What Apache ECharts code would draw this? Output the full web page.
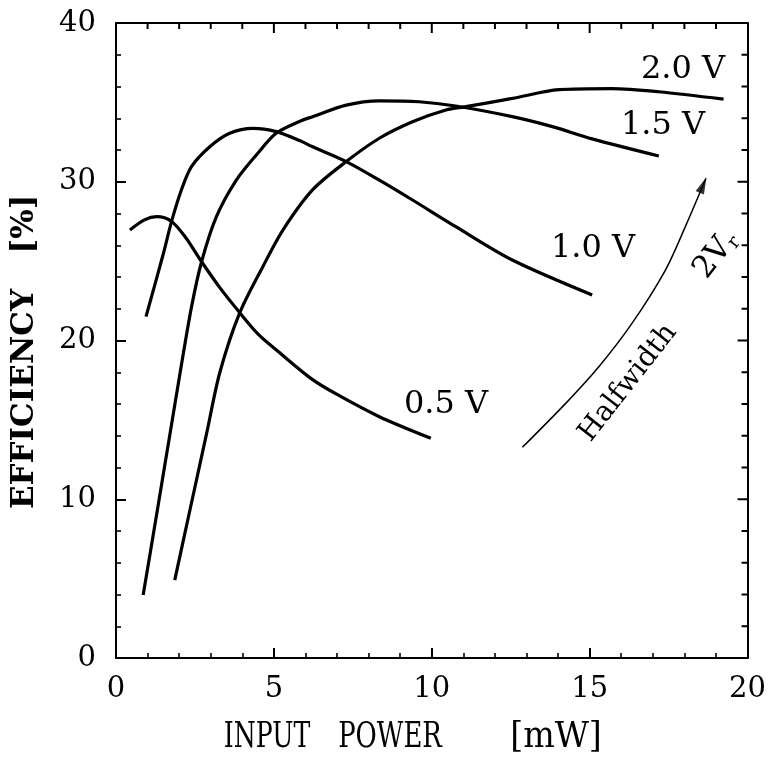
<!DOCTYPE html>
<html>
<head>
<meta charset="utf-8">
<script src="https://cdn.jsdelivr.net/npm/echarts@6/dist/echarts.min.js"></script>
<style>
html,body{margin:0;padding:0;background:#fff;}
#c{width:769px;height:761px;}
</style>
</head>
<body>
<div id="c"></div>
<script>
// ---- data ----
var x05 = [0.44, 0.9, 1.29, 1.76, 2.2, 2.71, 3.3, 3.92, 4.5, 5.08, 6.18, 7.0, 8.34, 9.97];
var y05 = [26.96, 27.6, 27.8, 27.5, 26.5, 24.96, 23.3, 21.75, 20.4, 19.4, 17.6, 16.6, 15.2, 13.84];

var x10 = [0.95, 1.49, 1.76, 2.07, 2.39, 2.97, 3.6, 4.34, 5.07, 5.81, 6.23, 7.29, 8.34, 9.39, 10.76, 12.55, 15.08];
var y10 = [21.5, 25.4, 27.5, 29.48, 30.95, 32.2, 33.05, 33.36, 33.16, 32.6, 32.2, 31.27, 30.1, 28.85, 27.17, 25.07, 22.87];

var x15 = [0.86, 1.3, 1.7, 2.05, 2.39, 2.71, 3.18, 3.81, 4.45, 5.07, 5.81, 6.23, 7.29, 8.34, 9.6, 10.76, 12.55, 13.82, 15.08, 17.19];
var y15 = [3.97, 9.2, 14.0, 18.2, 22.1, 24.96, 27.8, 30.1, 31.7, 33.05, 33.8, 34.1, 34.83, 35.1, 35.04, 34.77, 34.1, 33.47, 32.7, 31.62];

var x20 = [1.86, 2.35, 2.87, 3.29, 3.92, 4.65, 5.3, 6.23, 7.29, 8.34, 9.39, 10.45, 11.08, 12.55, 14.03, 15.71, 17.19, 19.24];
var y20 = [4.9, 9.4, 14.15, 18.0, 21.75, 24.65, 27.0, 29.5, 31.27, 32.74, 33.78, 34.52, 34.73, 35.25, 35.8, 35.87, 35.67, 35.2];

// "Halfwidth 2Vr" arrow path
var xArrow = [12.87, 14.24, 15.29, 16.34, 17.40, 18.03, 18.68];
var yArrow = [13.27, 16.04, 18.35, 21.08, 24.44, 27.17, 30.2];

var seriesNames = ['0.5 V', '1.0 V', '1.5 V', '2.0 V'];
var xTicks = [0, 5, 10, 15, 20];
var yTicks = [0, 10, 20, 30, 40];

function pairs(xs, ys){ return xs.map(function(v,i){ return [v, ys[i]]; }); }

var FONT = "'DejaVu Serif', 'Liberation Serif', serif";
var chart = echarts.init(document.getElementById('c'), null, {renderer:'canvas'});

var X0 = xTicks[0], X1 = xTicks[xTicks.length-1];
var Y0 = yTicks[0], Y1 = yTicks[yTicks.length-1];

var LINE = {show:true, onZero:false, lineStyle:{color:'#000', width:2}};
var TICK = {show:true, inside:true, length:10, lineStyle:{color:'#000', width:2}};
var MINOR = {show:true, splitNumber:5, length:5, lineStyle:{color:'#000', width:1.6}};

var xAxes = [
  {type:'value', position:'bottom', min:X0, max:X1, interval:5,
   axisLine:LINE, axisTick:TICK, minorTick:MINOR, splitLine:{show:false},
   axisLabel:{show:true, color:'#000', fontFamily:FONT, fontSize:29, margin:17}},
  {type:'value', position:'top', min:X0, max:X1, interval:5,
   axisLine:LINE, axisTick:{show:false}, minorTick:{show:false}, splitLine:{show:false}, axisLabel:{show:false}}
];
var yAxes = [
  {type:'value', position:'left', min:Y0, max:Y1, interval:10,
   axisLine:LINE, axisTick:TICK, minorTick:MINOR, splitLine:{show:false},
   axisLabel:{show:true, color:'#000', fontFamily:FONT, fontSize:29, margin:20}},
  {type:'value', position:'right', min:Y0, max:Y1, interval:10,
   axisLine:LINE, axisTick:{show:false}, minorTick:{show:false}, splitLine:{show:false}, axisLabel:{show:false}}
];

// tick marks of the top and right frame edges (value, side, isMajor)
var frameTicks = [];
for (var v = X0 + 1; v < X1; v += 1) frameTicks.push([v, 0, v % 5 === 0 ? 1 : 0]);
for (var w = Y0 + 2; w < Y1; w += 2) frameTicks.push([w, 1, w % 10 === 0 ? 1 : 0]);

function curve(name, xs, ys){
  return {name:name, type:'line', data:pairs(xs, ys), smooth:0.3,
    showSymbol:false, symbol:'none', lineStyle:{color:'#000', width:3.2}, itemStyle:{color:'#000'}, z:3};
}

var txt = function(t, x, y, size, extra){
  var o = {type:'text', x:x, y:y, style:{text:t, font:size+'px '+FONT, fill:'#000', align:'center', verticalAlign:'middle'}};
  if (extra) for (var k in extra) o[k] = extra[k];
  return o;
};

var option = {
  animation:false,
  backgroundColor:'#fff',
  grid:{left:116, right:20, top:23, bottom:103},
  xAxis:xAxes,
  yAxis:yAxes,
  series:[
    curve(seriesNames[0], x05, y05),
    curve(seriesNames[1], x10, y10),
    curve(seriesNames[2], x15, y15),
    curve(seriesNames[3], x20, y20),
    {name:'arrow', type:'line', data:pairs(xArrow, yArrow), smooth:0.3, showSymbol:false, symbol:'none',
     lineStyle:{color:'#000', width:1.5}, z:4},
    {name:'arrowhead', type:'scatter', data:[], symbol:'triangle', symbolSize:[9,17], itemStyle:{color:'#000'}, z:5},
    {name:'frameTicks', type:'custom', coordinateSystem:'cartesian2d', data:frameTicks, clip:false, silent:true, z:6,
     encode:{x:-1, y:-1},
     renderItem:function(params, api){
       var val = api.value(0), side = api.value(1), major = api.value(2);
       var len = major ? 10 : 6;
       var p, q;
       if (side === 0) { p = api.coord([val, Y1]); p = [p[0], p[1] - 1]; q = [p[0], p[1] + len + 1]; }
       else { p = api.coord([X1, val]); p = [p[0] + 1, p[1]]; q = [p[0] - len - 1, p[1]]; }
       return {type:'line', shape:{x1:p[0], y1:p[1], x2:q[0], y2:q[1]},
               style:{stroke:'#000', lineWidth:2}};
     }}
  ],
  graphic:[
    txt('2.0 V', 683, 70, 32),
    txt('1.5 V', 663, 126, 32),
    txt('1.0 V', 593, 249, 32),
    txt('0.5 V', 446, 405, 32),
    txt('Halfwidth', 628, 383, 28, {rotation:52*Math.PI/180}),
    {type:'text', x:716, y:255, rotation:52*Math.PI/180, style:{
      text:'{a|2V}{b|r}', align:'center', verticalAlign:'middle',
      rich:{a:{fontFamily:FONT, fontSize:31, color:'#000'}, b:{fontFamily:FONT, fontSize:19, color:'#000', padding:[14,0,0,0]}}}},
    txt('INPUT', 267, 738, 35, {scaleX:0.72}),
    txt('POWER', 390, 738, 35, {scaleX:0.74}),
    txt('[mW]', 556, 738, 35, {scaleX:0.95}),
    {type:'text', x:25, y:399, rotation:Math.PI/2, style:{text:'EFFICIENCY', font:'bold 31px '+FONT, fill:'#000', align:'center', verticalAlign:'middle'}},
    {type:'text', x:25, y:224, rotation:Math.PI/2, style:{text:'[%]', font:'bold 31px '+FONT, fill:'#000', align:'center', verticalAlign:'middle'}}
  ]
};
chart.setOption(option);

// arrowhead placed at the end of the arrow path, oriented along it
var n = xArrow.length;
var pA = chart.convertToPixel({gridIndex:0}, [xArrow[n-2], yArrow[n-2]]);
var pB = chart.convertToPixel({gridIndex:0}, [xArrow[n-1], yArrow[n-1]]);
var dx = pB[0]-pA[0], dy = pB[1]-pA[1], len = Math.sqrt(dx*dx+dy*dy);
var ux = dx/len, uy = dy/len;
var center = chart.convertFromPixel({gridIndex:0}, [pB[0]-ux*7, pB[1]-uy*7]);
var ang = Math.atan2(-dy, dx)*180/Math.PI;
chart.setOption({series:[{},{},{},{},{},{name:'arrowhead', data:[center], symbolRotate:ang-90},{}]});
</script>
</body>
</html>
